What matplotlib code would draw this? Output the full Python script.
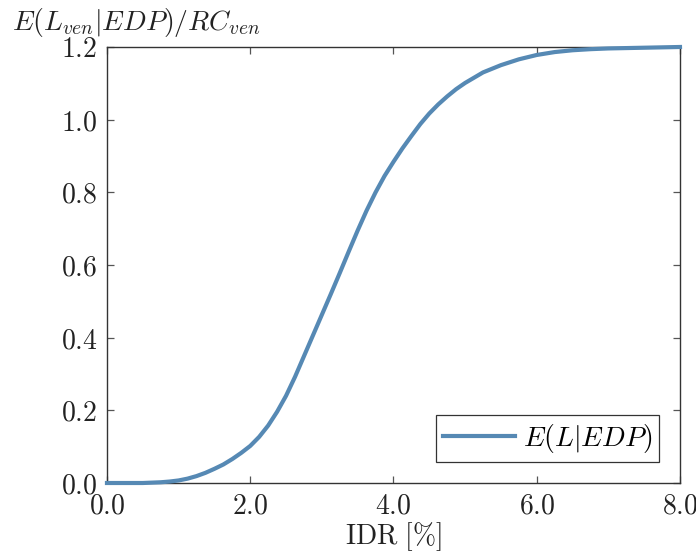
import numpy as np
import matplotlib
matplotlib.use("Agg")
import matplotlib.pyplot as plt
from matplotlib.ticker import FuncFormatter

plt.rcParams['mathtext.fontset'] = 'cm'
plt.rcParams['font.family'] = 'serif'

# expected loss ratio vs interstory drift
idr = [0.0, 0.25, 0.5, 0.625, 0.75, 0.875, 1.0, 1.125, 1.25, 1.375, 1.5,
       1.625, 1.75, 1.875, 2.0, 2.125, 2.25, 2.375, 2.5, 2.625, 2.75,
       2.875, 3.0, 3.125, 3.25, 3.375, 3.5, 3.625, 3.75, 3.875, 4.0,
       4.125, 4.25, 4.375, 4.5, 4.625, 4.75, 4.875, 5.0, 5.25, 5.5, 5.75,
       6.0, 6.25, 6.5, 6.75, 7.0, 7.25, 7.5, 7.75, 8.0]
loss = [0.0, 0.0, 0.0, 0.001, 0.002, 0.004, 0.007, 0.012, 0.019, 0.028,
        0.039, 0.051, 0.066, 0.083, 0.102, 0.127, 0.158, 0.196, 0.240,
        0.292, 0.349, 0.406, 0.463, 0.520, 0.578, 0.637, 0.695, 0.750,
        0.800, 0.845, 0.884, 0.921, 0.955, 0.988, 1.017, 1.042, 1.064,
        1.084, 1.101, 1.130, 1.150, 1.166, 1.178, 1.186, 1.191, 1.194,
        1.196, 1.197, 1.198, 1.199, 1.2]

xticks = [0, 2, 4, 6, 8]
yticks = [0.0, 0.2, 0.4, 0.6, 0.8, 1.0, 1.2]

fig = plt.figure(figsize=(6.96, 5.6), dpi=100)
ax = fig.add_axes([0.1537, 0.1375, 0.8233, 0.7786])

ax.plot(idr, loss, color='#5689b4', lw=3.0, clip_on=False,
        label=r'$E(L|EDP)$', zorder=3)

ax.set_xlim(0, 8)
ax.set_ylim(0, 1.2)
ax.set_xticks(xticks)
ax.set_yticks(yticks)
fmt = FuncFormatter(lambda v, p: r'$%.1f$' % v)
ax.xaxis.set_major_formatter(fmt)
ax.yaxis.set_major_formatter(fmt)
ax.tick_params(direction='in', top=True, right=True, length=5, width=0.9,
               color='#555555', labelsize=20, labelcolor='#222222')
ax.tick_params(axis='x', pad=7)
ax.tick_params(axis='y', pad=7)
for s in ax.spines.values():
    s.set_color('#333333')
    s.set_linewidth(1.0)

ax.set_xlabel(r'$\mathrm{IDR}\ [\%]$', fontsize=20, color='#222222', labelpad=0)
ax.set_ylabel(r'$E(L_{ven}|EDP)/RC_{ven}$', fontsize=20, color='#222222',
              rotation=0, ha='left', va='center')
ax.yaxis.set_label_coords(-0.166, 1.057)

leg = ax.legend(loc='lower right', fontsize=20, fancybox=False, framealpha=1,
                edgecolor='#333333', handlelength=2.6, handletextpad=0.3,
                borderpad=0.25, borderaxespad=0,
                bbox_to_anchor=(0.964, 0.048))
leg.get_frame().set_linewidth(0.9)

fig.savefig('out.png', dpi=100)
